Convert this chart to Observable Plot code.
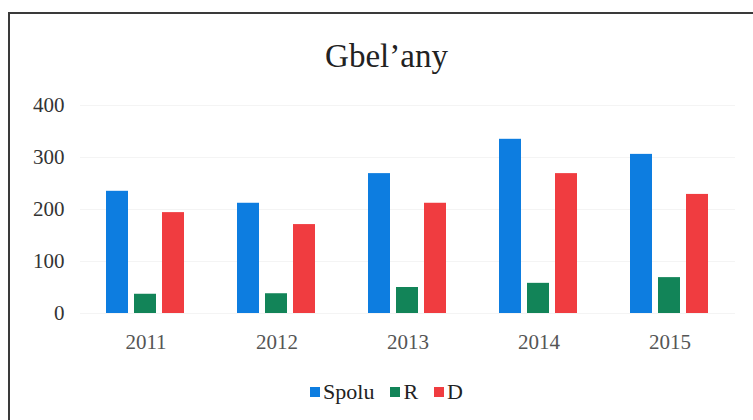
<!DOCTYPE html>
<html>
<head>
<meta charset="utf-8">
<script src="https://cdn.jsdelivr.net/npm/d3@7"></script>
<script src="https://cdn.jsdelivr.net/npm/@observablehq/plot@0.6"></script>
<style>
  html, body { margin: 0; padding: 0; background: #fff; }
  #frame {
    position: absolute; left: 8px; top: 12px; width: 745px; height: 420px;
    border-left: 2px solid #3a3a3a; border-top: 2px solid #3a3a3a;
    box-sizing: border-box;
  }
  #wrap { position: absolute; left: 0; top: 0; width: 753px; height: 420px; }
  #title {
    position: absolute; left: 0; width: 753px; top: 37px; text-align: center;
    font-family: "Liberation Serif", serif; font-size: 33px; color: #222; line-height: 38px;
    padding-left: 20px; box-sizing: border-box;
  }
  #chart { position: absolute; left: 0; top: 80px; }
  #legend {
    position: absolute; left: 0; width: 753px; top: 379px; text-align: center;
    font-family: "Liberation Serif", serif; font-size: 22px; color: #222; line-height: 26px;
    padding-left: 20px; box-sizing: border-box;
  }
  .sw { display: inline-block; width: 10px; height: 10px; margin-right: 3px; vertical-align: 2px; }
  .item { margin: 0 8px; }
</style>
</head>
<body>
<div id="wrap">
  <div id="frame"></div>
  <div id="title">Gbel’any</div>
  <div id="chart"></div>
  <div id="legend"></div>
</div>
<script>
const years = ["2011", "2012", "2013", "2014", "2015"];
const seriesNames = ["Spolu", "R", "D"];
const spolu = [235, 212, 269, 335, 306];
const r = [37, 38, 50, 58, 69];
const d = [194, 171, 212, 269, 229];
const colors = ["#0d7de0", "#128458", "#f03c40"];
const yTicks = [0, 100, 200, 300, 400];

const seriesValues = [spolu, r, d];
const data = [];
years.forEach((y, i) => {
  seriesNames.forEach((s, j) => data.push({year: y, series: s, value: seriesValues[j][i]}));
});

const plot = Plot.plot({
  width: 753,
  height: 300,
  marginTop: 25,
  marginBottom: 67,
  marginLeft: 78,
  marginRight: 17,
  style: {fontFamily: "Liberation Serif, serif", fontSize: "21px", color: "#333", background: "transparent"},
  fx: {domain: years, padding: 0, label: null},
  x: {domain: seriesNames, paddingInner: 0.2, paddingOuter: 0.87, axis: null},
  y: {domain: [0, 400], ticks: yTicks, label: null, axis: null},
  color: {domain: seriesNames, range: colors},
  marks: [
    Plot.ruleY(yTicks, {stroke: "#f4f4f4", strokeWidth: 1}),
    Plot.axisY({ticks: yTicks, tickSize: 0, tickPadding: 16, label: null, fontSize: 21, fill: "#333"}),
    Plot.axisFx({anchor: "bottom", tickSize: 0, tickPadding: 21, label: null, fontSize: 21, fill: "#555"}),
    Plot.barY(data, {fx: "year", x: "series", y: "value", fill: "series"})
  ]
});
document.getElementById("chart").appendChild(plot);

const legend = document.getElementById("legend");
seriesNames.forEach((s, i) => {
  const span = document.createElement("span");
  span.className = "item";
  span.innerHTML = `<span class="sw" style="background:${colors[i]}"></span>${s}`;
  legend.appendChild(span);
});
</script>
</body>
</html>
